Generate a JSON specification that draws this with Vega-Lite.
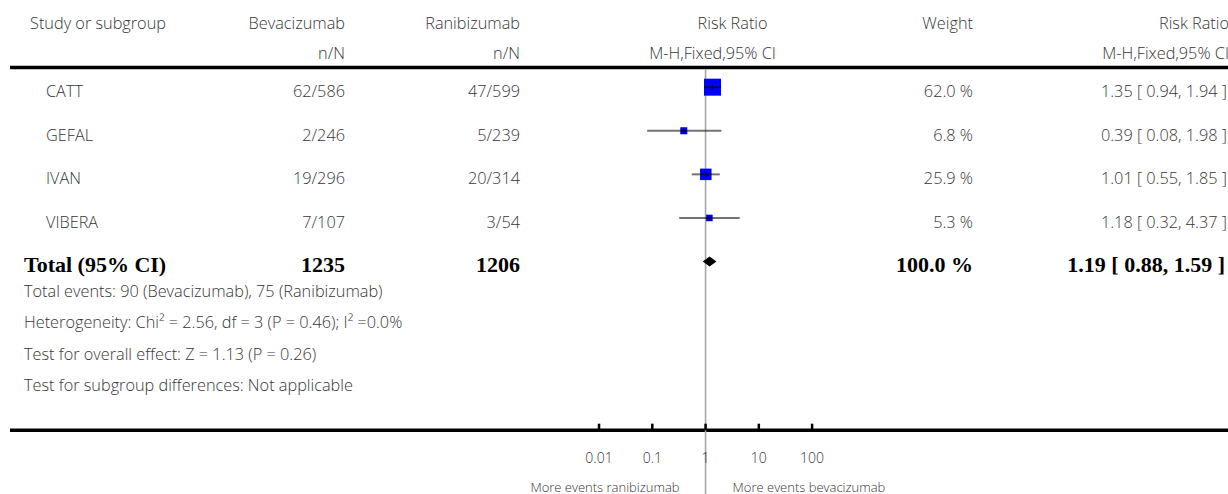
{
  "$schema": "https://vega.github.io/schema/vega-lite/v6.json",
  "padding": {"left": 8, "top": 0, "right": 0, "bottom": 0},
  "spacing": 0,
  "bounds": "flush",
  "config": {
    "view": {"stroke": null},
    "text": {"font": "Open Sans", "fontSize": 16.3, "fontWeight": 300, "color": "#363636", "baseline": "alphabetic", "dy": 10}
  },
  "datasets": {
    "rows": [
      {"row": 3, "kind": "study", "study": "CATT", "bev": "62/586", "ran": "47/599", "rr": 1.35, "lo": 0.94, "hi": 1.94, "weight": 62.0, "weightText": "62.0 %", "rrText": "1.35 [ 0.94, 1.94 ]"},
      {"row": 4.5, "kind": "study", "study": "GEFAL", "bev": "2/246", "ran": "5/239", "rr": 0.39, "lo": 0.08, "hi": 1.98, "weight": 6.8, "weightText": "6.8 %", "rrText": "0.39 [ 0.08, 1.98 ]"},
      {"row": 6, "kind": "study", "study": "IVAN", "bev": "19/296", "ran": "20/314", "rr": 1.01, "lo": 0.55, "hi": 1.85, "weight": 25.9, "weightText": "25.9 %", "rrText": "1.01 [ 0.55, 1.85 ]"},
      {"row": 7.5, "kind": "study", "study": "VIBERA", "bev": "7/107", "ran": "3/54", "rr": 1.18, "lo": 0.32, "hi": 4.37, "weight": 5.3, "weightText": "5.3 %", "rrText": "1.18 [ 0.32, 4.37 ]"},
      {"row": 9, "kind": "total", "study": "Total (95% CI)", "bev": "1235", "ran": "1206", "rr": 1.19, "lo": 0.88, "hi": 1.59, "weight": 100.0, "weightText": "100.0 %", "rrText": "1.19 [ 0.88, 1.59 ]"}
    ],
    "headers": [
      {"line": 1, "row": 0.64, "study": "Study or subgroup", "bev": "Bevacizumab", "ran": "Ranibizumab", "rr": "Risk Ratio", "weight": "Weight", "rrText": "Risk Ratio"},
      {"line": 2, "row": 1.7, "study": "", "bev": "n/N", "ran": "n/N", "rr": "M-H,Fixed,95% CI", "weight": "", "rrText": "M-H,Fixed,95% CI"}
    ],
    "notes": [
      {"row": 9.88, "text": "Total events: 90 (Bevacizumab), 75 (Ranibizumab)"},
      {"row": 10.96, "text": "Heterogeneity: Chi² = 2.56, df = 3 (P = 0.46); I² =0.0%"},
      {"row": 12.04, "text": "Test for overall effect: Z = 1.13 (P = 0.26)"},
      {"row": 13.12, "text": "Test for subgroup differences: Not applicable"}
    ],
    "hlines": [{"row": 2.32}, {"row": 14.81}],
    "ticks": [
      {"v": 0.01, "label": "0.01"},
      {"v": 0.1, "label": "0.1"},
      {"v": 1, "label": "1"},
      {"v": 10, "label": "10"},
      {"v": 100, "label": "100"}
    ],
    "favours": [
      {"side": "left", "label": "More events ranibizumab"},
      {"side": "right", "label": "More events bevacizumab"}
    ]
  },
  "hconcat": [
    {
      "width": 250, "height": 494,
      "layer": [
        {"data": {"name": "hlines"}, "mark": {"type": "rule", "strokeWidth": 3.5, "color": "#000000"},
         "encoding": {"y": {"field": "row", "type": "quantitative", "scale": {"domain": [0, 17], "reverse": true, "nice": false, "zero": false}, "axis": null}}},
        {"data": {"name": "headers"}, "mark": {"type": "text", "align": "left", "dx": 20},
         "encoding": {"x": {"datum": 0, "type": "quantitative", "scale": {"domain": [0, 1], "nice": false}, "axis": null},
                      "y": {"field": "row", "type": "quantitative", "scale": {"domain": [0, 17], "reverse": true, "nice": false, "zero": false}, "axis": null},
                      "text": {"field": "study"}}},
        {"data": {"name": "rows"}, "transform": [{"filter": "datum.kind == 'study'"}], "mark": {"type": "text", "align": "left", "dx": 36},
         "encoding": {"x": {"datum": 0, "type": "quantitative", "scale": {"domain": [0, 1], "nice": false}, "axis": null},
                      "y": {"field": "row", "type": "quantitative", "scale": {"domain": [0, 17], "reverse": true, "nice": false, "zero": false}, "axis": null},
                      "text": {"field": "study"}}},
        {"data": {"name": "rows"}, "transform": [{"filter": "datum.kind == 'total'"}], "mark": {"type": "text", "align": "left", "dx": 14, "font": "Liberation Serif", "fontWeight": "bold", "fontSize": 22, "color": "#000000"},
         "encoding": {"x": {"datum": 0, "type": "quantitative", "scale": {"domain": [0, 1], "nice": false}, "axis": null},
                      "y": {"field": "row", "type": "quantitative", "scale": {"domain": [0, 17], "reverse": true, "nice": false, "zero": false}, "axis": null},
                      "text": {"field": "study"}}},
        {"data": {"name": "notes"}, "mark": {"type": "text", "align": "left", "dx": 14},
         "encoding": {"x": {"datum": 0, "type": "quantitative", "scale": {"domain": [0, 1], "nice": false}, "axis": null},
                      "y": {"field": "row", "type": "quantitative", "scale": {"domain": [0, 17], "reverse": true, "nice": false, "zero": false}, "axis": null},
                      "text": {"field": "text"}}}
      ]
    },
    {
      "width": 85, "height": 494,
      "layer": [
        {"data": {"name": "hlines"}, "mark": {"type": "rule", "strokeWidth": 3.5, "color": "#000000"},
         "encoding": {"y": {"field": "row", "type": "quantitative", "scale": {"domain": [0, 17], "reverse": true, "nice": false, "zero": false}, "axis": null}}},
        {"data": {"name": "headers"}, "mark": {"type": "text", "align": "right"},
         "encoding": {"x": {"datum": 1, "type": "quantitative", "scale": {"domain": [0, 1], "nice": false}, "axis": null},
                      "y": {"field": "row", "type": "quantitative", "scale": {"domain": [0, 17], "reverse": true, "nice": false, "zero": false}, "axis": null},
                      "text": {"field": "bev"}}},
        {"data": {"name": "rows"}, "transform": [{"filter": "datum.kind == 'study'"}], "mark": {"type": "text", "align": "right"},
         "encoding": {"x": {"datum": 1, "type": "quantitative", "scale": {"domain": [0, 1], "nice": false}, "axis": null},
                      "y": {"field": "row", "type": "quantitative", "scale": {"domain": [0, 17], "reverse": true, "nice": false, "zero": false}, "axis": null},
                      "text": {"field": "bev"}}},
        {"data": {"name": "rows"}, "transform": [{"filter": "datum.kind == 'total'"}], "mark": {"type": "text", "align": "right", "font": "Liberation Serif", "fontWeight": "bold", "fontSize": 22, "color": "#000000"},
         "encoding": {"x": {"datum": 1, "type": "quantitative", "scale": {"domain": [0, 1], "nice": false}, "axis": null},
                      "y": {"field": "row", "type": "quantitative", "scale": {"domain": [0, 17], "reverse": true, "nice": false, "zero": false}, "axis": null},
                      "text": {"field": "bev"}}}
      ]
    },
    {
      "width": 175, "height": 494,
      "layer": [
        {"data": {"name": "hlines"}, "mark": {"type": "rule", "strokeWidth": 3.5, "color": "#000000"},
         "encoding": {"y": {"field": "row", "type": "quantitative", "scale": {"domain": [0, 17], "reverse": true, "nice": false, "zero": false}, "axis": null}}},
        {"data": {"name": "headers"}, "mark": {"type": "text", "align": "right"},
         "encoding": {"x": {"datum": 1, "type": "quantitative", "scale": {"domain": [0, 1], "nice": false}, "axis": null},
                      "y": {"field": "row", "type": "quantitative", "scale": {"domain": [0, 17], "reverse": true, "nice": false, "zero": false}, "axis": null},
                      "text": {"field": "ran"}}},
        {"data": {"name": "rows"}, "transform": [{"filter": "datum.kind == 'study'"}], "mark": {"type": "text", "align": "right"},
         "encoding": {"x": {"datum": 1, "type": "quantitative", "scale": {"domain": [0, 1], "nice": false}, "axis": null},
                      "y": {"field": "row", "type": "quantitative", "scale": {"domain": [0, 17], "reverse": true, "nice": false, "zero": false}, "axis": null},
                      "text": {"field": "ran"}}},
        {"data": {"name": "rows"}, "transform": [{"filter": "datum.kind == 'total'"}], "mark": {"type": "text", "align": "right", "font": "Liberation Serif", "fontWeight": "bold", "fontSize": 22, "color": "#000000"},
         "encoding": {"x": {"datum": 1, "type": "quantitative", "scale": {"domain": [0, 1], "nice": false}, "axis": null},
                      "y": {"field": "row", "type": "quantitative", "scale": {"domain": [0, 17], "reverse": true, "nice": false, "zero": false}, "axis": null},
                      "text": {"field": "ran"}}}
      ]
    },
    {
      "width": 372, "height": 494,
      "layer": [
        {"data": {"name": "hlines"}, "mark": {"type": "rule", "strokeWidth": 3.5, "color": "#000000"},
         "encoding": {"y": {"field": "row", "type": "quantitative", "scale": {"domain": [0, 17], "reverse": true, "nice": false, "zero": false}, "axis": null}}},
        {"data": {"values": [{}]}, "mark": {"type": "rule", "strokeWidth": 1.6, "color": "#a6a6a6"},
         "encoding": {"x": {"datum": 1, "type": "quantitative", "scale": {"type": "log", "domain": [0.0003284, 3162.28], "nice": false}, "axis": null},
                      "y": {"datum": 2.38, "type": "quantitative", "scale": {"domain": [0, 17], "reverse": true, "nice": false, "zero": false}, "axis": null},
                      "y2": {"datum": 17}}},
        {"data": {"name": "headers"}, "transform": [{"filter": "datum.line == 1"}], "mark": {"type": "text", "align": "center", "dx": 27},
         "encoding": {"x": {"datum": 1, "type": "quantitative", "scale": {"type": "log", "domain": [0.0003284, 3162.28], "nice": false}, "axis": null},
                      "y": {"field": "row", "type": "quantitative", "scale": {"domain": [0, 17], "reverse": true, "nice": false, "zero": false}, "axis": null},
                      "text": {"field": "rr"}}},
        {"data": {"name": "headers"}, "transform": [{"filter": "datum.line == 2"}], "mark": {"type": "text", "align": "center", "dx": 7},
         "encoding": {"x": {"datum": 1, "type": "quantitative", "scale": {"type": "log", "domain": [0.0003284, 3162.28], "nice": false}, "axis": null},
                      "y": {"field": "row", "type": "quantitative", "scale": {"domain": [0, 17], "reverse": true, "nice": false, "zero": false}, "axis": null},
                      "text": {"field": "rr"}}},
        {"data": {"name": "rows"}, "transform": [{"filter": "datum.kind == 'study'"}], "mark": {"type": "point", "shape": "square", "filled": true, "color": "#0000ff", "opacity": 1, "strokeWidth": 0},
         "encoding": {"x": {"field": "rr", "type": "quantitative", "scale": {"type": "log", "domain": [0.0003284, 3162.28], "nice": false}, "axis": null},
                      "y": {"field": "row", "type": "quantitative", "scale": {"domain": [0, 17], "reverse": true, "nice": false, "zero": false}, "axis": null},
                      "size": {"field": "weight", "type": "quantitative", "scale": {"domain": [0, 62], "range": [20, 289], "zero": false}, "legend": null}}},
        {"data": {"name": "rows"}, "transform": [{"filter": "datum.kind == 'study'"}], "mark": {"type": "rule", "strokeWidth": 2, "color": "#000000", "opacity": 0.55},
         "encoding": {"x": {"field": "lo", "type": "quantitative", "scale": {"type": "log", "domain": [0.0003284, 3162.28], "nice": false}, "axis": null},
                      "x2": {"field": "hi"},
                      "y": {"field": "row", "type": "quantitative", "scale": {"domain": [0, 17], "reverse": true, "nice": false, "zero": false}, "axis": null}}},
        {"data": {"name": "rows"}, "transform": [{"filter": "datum.kind == 'study'"}], "mark": {"type": "tick", "orient": "vertical", "size": 6, "thickness": 1.2, "color": "#000000", "opacity": 0.7},
         "encoding": {"x": {"field": "rr", "type": "quantitative", "scale": {"type": "log", "domain": [0.0003284, 3162.28], "nice": false}, "axis": null},
                      "y": {"field": "row", "type": "quantitative", "scale": {"domain": [0, 17], "reverse": true, "nice": false, "zero": false}, "axis": null}}},
        {"data": {"name": "rows"}, "transform": [{"filter": "datum.kind == 'total'"}], "mark": {"type": "point", "shape": "M-1,0L0,-0.73L1,0L0,0.73Z", "size": 188, "filled": true, "color": "#000000", "opacity": 1, "strokeWidth": 0},
         "encoding": {"x": {"field": "rr", "type": "quantitative", "scale": {"type": "log", "domain": [0.0003284, 3162.28], "nice": false}, "axis": null},
                      "y": {"field": "row", "type": "quantitative", "scale": {"domain": [0, 17], "reverse": true, "nice": false, "zero": false}, "axis": null}}},
        {"data": {"name": "ticks"}, "mark": {"type": "rule", "strokeWidth": 2.5, "color": "#000000"},
         "encoding": {"x": {"field": "v", "type": "quantitative", "scale": {"type": "log", "domain": [0.0003284, 3162.28], "nice": false}, "axis": null},
                      "y": {"datum": 14.58, "type": "quantitative", "scale": {"domain": [0, 17], "reverse": true, "nice": false, "zero": false}, "axis": null},
                      "y2": {"datum": 14.81}}},
        {"data": {"name": "ticks"}, "mark": {"type": "text", "align": "center", "fontSize": 14},
         "encoding": {"x": {"field": "v", "type": "quantitative", "scale": {"type": "log", "domain": [0.0003284, 3162.28], "nice": false}, "axis": null},
                      "y": {"datum": 15.59, "type": "quantitative", "scale": {"domain": [0, 17], "reverse": true, "nice": false, "zero": false}, "axis": null},
                      "text": {"field": "label"}}},
        {"data": {"name": "favours"}, "transform": [{"filter": "datum.side == 'left'"}], "mark": {"type": "text", "align": "right", "dx": -26, "fontSize": 13},
         "encoding": {"x": {"datum": 1, "type": "quantitative", "scale": {"type": "log", "domain": [0.0003284, 3162.28], "nice": false}, "axis": null},
                      "y": {"datum": 16.59, "type": "quantitative", "scale": {"domain": [0, 17], "reverse": true, "nice": false, "zero": false}, "axis": null},
                      "text": {"field": "label"}}},
        {"data": {"name": "favours"}, "transform": [{"filter": "datum.side == 'right'"}], "mark": {"type": "text", "align": "left", "dx": 27, "fontSize": 13},
         "encoding": {"x": {"datum": 1, "type": "quantitative", "scale": {"type": "log", "domain": [0.0003284, 3162.28], "nice": false}, "axis": null},
                      "y": {"datum": 16.59, "type": "quantitative", "scale": {"domain": [0, 17], "reverse": true, "nice": false, "zero": false}, "axis": null},
                      "text": {"field": "label"}}}
      ]
    },
    {
      "width": 81, "height": 494,
      "layer": [
        {"data": {"name": "hlines"}, "mark": {"type": "rule", "strokeWidth": 3.5, "color": "#000000"},
         "encoding": {"y": {"field": "row", "type": "quantitative", "scale": {"domain": [0, 17], "reverse": true, "nice": false, "zero": false}, "axis": null}}},
        {"data": {"name": "headers"}, "mark": {"type": "text", "align": "right"},
         "encoding": {"x": {"datum": 1, "type": "quantitative", "scale": {"domain": [0, 1], "nice": false}, "axis": null},
                      "y": {"field": "row", "type": "quantitative", "scale": {"domain": [0, 17], "reverse": true, "nice": false, "zero": false}, "axis": null},
                      "text": {"field": "weight"}}},
        {"data": {"name": "rows"}, "transform": [{"filter": "datum.kind == 'study'"}], "mark": {"type": "text", "align": "right"},
         "encoding": {"x": {"datum": 1, "type": "quantitative", "scale": {"domain": [0, 1], "nice": false}, "axis": null},
                      "y": {"field": "row", "type": "quantitative", "scale": {"domain": [0, 17], "reverse": true, "nice": false, "zero": false}, "axis": null},
                      "text": {"field": "weightText"}}},
        {"data": {"name": "rows"}, "transform": [{"filter": "datum.kind == 'total'"}], "mark": {"type": "text", "align": "right", "font": "Liberation Serif", "fontWeight": "bold", "fontSize": 22, "color": "#000000"},
         "encoding": {"x": {"datum": 1, "type": "quantitative", "scale": {"domain": [0, 1], "nice": false}, "axis": null},
                      "y": {"field": "row", "type": "quantitative", "scale": {"domain": [0, 17], "reverse": true, "nice": false, "zero": false}, "axis": null},
                      "text": {"field": "weightText"}}}
      ]
    },
    {
      "width": 255, "height": 494,
      "layer": [
        {"data": {"name": "hlines"}, "mark": {"type": "rule", "strokeWidth": 3.5, "color": "#000000"},
         "encoding": {"y": {"field": "row", "type": "quantitative", "scale": {"domain": [0, 17], "reverse": true, "nice": false, "zero": false}, "axis": null}}},
        {"data": {"name": "headers"}, "mark": {"type": "text", "align": "right", "dx": 1},
         "encoding": {"x": {"datum": 1, "type": "quantitative", "scale": {"domain": [0, 1], "nice": false}, "axis": null},
                      "y": {"field": "row", "type": "quantitative", "scale": {"domain": [0, 17], "reverse": true, "nice": false, "zero": false}, "axis": null},
                      "text": {"field": "rrText"}}},
        {"data": {"name": "rows"}, "transform": [{"filter": "datum.kind == 'study'"}], "mark": {"type": "text", "align": "right", "dx": -1},
         "encoding": {"x": {"datum": 1, "type": "quantitative", "scale": {"domain": [0, 1], "nice": false}, "axis": null},
                      "y": {"field": "row", "type": "quantitative", "scale": {"domain": [0, 17], "reverse": true, "nice": false, "zero": false}, "axis": null},
                      "text": {"field": "rrText"}}},
        {"data": {"name": "rows"}, "transform": [{"filter": "datum.kind == 'total'"}], "mark": {"type": "text", "align": "right", "dx": -3, "font": "Liberation Serif", "fontWeight": "bold", "fontSize": 22, "color": "#000000"},
         "encoding": {"x": {"datum": 1, "type": "quantitative", "scale": {"domain": [0, 1], "nice": false}, "axis": null},
                      "y": {"field": "row", "type": "quantitative", "scale": {"domain": [0, 17], "reverse": true, "nice": false, "zero": false}, "axis": null},
                      "text": {"field": "rrText"}}}
      ]
    }
  ]
}
